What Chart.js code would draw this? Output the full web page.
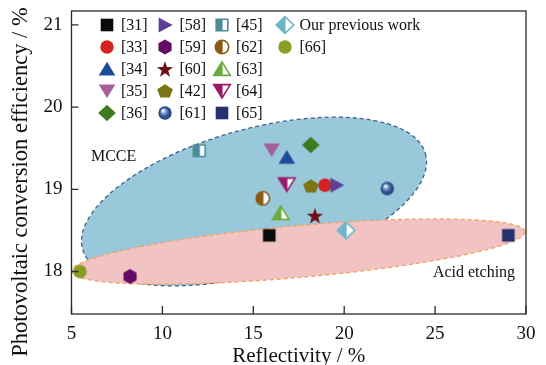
<!DOCTYPE html>
<html>
<head>
<meta charset="utf-8">
<script src="https://cdn.jsdelivr.net/npm/chart.js@4/dist/chart.umd.min.js"></script>
<style>
  html, body { margin: 0; padding: 0; background: #ffffff; }
  #wrap { width: 546px; height: 365px; }
</style>
</head>
<body>
<div id="wrap"><canvas id="chart" width="546" height="365"></canvas></div>
<script>
// ---- data ----
const refLabels = ['[31]', '[33]', '[34]', '[35]', '[36]',
                   '[58]', '[59]', '[60]', '[42]', '[61]',
                   '[45]', '[62]', '[63]', '[64]', '[65]',
                   'Our previous work', '[66]'];
const reflectivity = [15.88, 18.94, 16.84, 16.01, 18.16,
                      19.59, 8.22, 18.39, 18.17, 22.37,
                      12.03, 15.52, 16.51, 16.84, 29.03,
                      20.10, 5.47];
const efficiency = [18.44, 19.05, 19.39, 19.48, 19.54,
                    19.05, 17.94, 18.68, 19.04, 19.01,
                    19.47, 18.89, 18.71, 19.06, 18.44,
                    18.50, 18.00];
const xTicks = [5, 10, 15, 20, 25, 30];
const yTicks = [18, 19, 20, 21];

// shaded process regions (centre and two half-axis vectors, in data units)
const regionNames = ['MCCE', 'Acid etching'];
const regionCenterX = [15.04, 17.47];
const regionCenterY = [18.852, 18.243];
const regionAxisU = [[9.43, 0.580], [12.47, 0.243]];
const regionAxisV = [[1.065, -0.847], [0.125, -0.314]];
const regionLabelX = [6.07, 24.88];
const regionLabelY = [19.39, 17.99];

// ---- styles ----
const FONT = "'Liberation Serif', 'Times New Roman', 'DejaVu Serif', serif";
const markerStyles = [
  { shape: 'square', color: '#0b0b0b' },
  { shape: 'circle', color: '#d42121' },
  { shape: 'triangle', color: '#1d4c9b' },
  { shape: 'triangleDown', color: '#a5609c' },
  { shape: 'diamond', color: '#3e7b1e' },
  { shape: 'triangleRight', color: '#5b3f98' },
  { shape: 'hexagon', color: '#650b67' },
  { shape: 'star', color: '#6f0d15' },
  { shape: 'pentagon', color: '#7b7513' },
  { shape: 'sphere', color: '#2f5a97' },
  { shape: 'halfSquare', color: '#4b8a97' },
  { shape: 'halfCircle', color: '#8b5a12' },
  { shape: 'halfTriangle', color: '#6aab3b' },
  { shape: 'halfTriangleDown', color: '#9b1a6c' },
  { shape: 'square', color: '#27306f' },
  { shape: 'halfDiamond', color: '#6db6c9' },
  { shape: 'circle', color: '#8d9c23' }
];
const regionStyles = [
  { fill: '#98c8da', stroke: '#3f6088' },
  { fill: '#f2c3c3', stroke: '#efa35f' }
];

function polyPath(ctx, pts) {
  ctx.beginPath();
  pts.forEach((p, k) => k ? ctx.lineTo(p[0], p[1]) : ctx.moveTo(p[0], p[1]));
  ctx.closePath();
}
function regularPts(n, r, start) {
  const pts = [];
  for (let k = 0; k < n; k++) {
    const a = start + k * 2 * Math.PI / n;
    pts.push([r * Math.cos(a), r * Math.sin(a)]);
  }
  return pts;
}
function shapePath(ctx, shape) {
  switch (shape) {
    case 'square': case 'halfSquare': {
      const h = shape === 'square' ? 6.3 : 5.8;
      polyPath(ctx, [[-h, -h], [h, -h], [h, h], [-h, h]]); break;
    }
    case 'circle': case 'halfCircle': case 'sphere':
      ctx.beginPath(); ctx.arc(0, 0, 6.7, 0, Math.PI * 2); ctx.closePath(); break;
    case 'triangle': case 'halfTriangle':
      polyPath(ctx, [[0, -7.2], [8.3, 6.4], [-8.3, 6.4]]); break;
    case 'triangleDown': case 'halfTriangleDown':
      polyPath(ctx, [[-8.3, -6.4], [8.3, -6.4], [0, 7.0]]); break;
    case 'diamond': case 'halfDiamond':
      polyPath(ctx, [[0, -8.3], [8.8, 0], [0, 8.3], [-8.8, 0]]); break;
    case 'triangleRight':
      polyPath(ctx, [[7.6, 0], [-6.4, -7.6], [-6.4, 7.6]]); break;
    case 'hexagon':
      polyPath(ctx, regularPts(6, 7.6, -Math.PI / 2)); break;
    case 'pentagon': {
      const p = regularPts(5, 8.2, -Math.PI / 2).map(q => [q[0], q[1] * 0.9 + 0.6]);
      polyPath(ctx, p); break;
    }
    case 'star': {
      const pts = [];
      for (let k = 0; k < 10; k++) {
        const r = k % 2 ? 3.4 : 8.6;
        const a = -Math.PI / 2 + k * Math.PI / 5;
        pts.push([r * Math.cos(a), r * Math.sin(a) + 0.8]);
      }
      polyPath(ctx, pts); break;
    }
  }
}

// marker images used as Chart.js point styles (and by the legend)
function makeMarker(style) {
  const S = 22;
  const cv = document.createElement('canvas');
  cv.width = S; cv.height = S;
  const ctx = cv.getContext('2d');
  ctx.translate(S / 2, S / 2);
  const half = style.shape.startsWith('half');
  shapePath(ctx, style.shape);
  if (style.shape === 'sphere') {
    const g = ctx.createRadialGradient(-2, -2.5, 0.5, 0, 0, 7);
    g.addColorStop(0, '#ffffff');
    g.addColorStop(0.25, '#8fa9d2');
    g.addColorStop(0.6, style.color);
    g.addColorStop(1, '#1e3c6c');
    ctx.fillStyle = g;
    ctx.fill();
  } else if (half) {
    ctx.fillStyle = '#ffffff';
    ctx.fill();
    ctx.save();
    ctx.clip();
    ctx.fillStyle = style.color;
    ctx.fillRect(-S / 2, -S / 2, S / 2 + 0.6, S);
    ctx.restore();
    shapePath(ctx, style.shape);
    ctx.strokeStyle = style.color;
    ctx.lineWidth = 1.6;
    ctx.stroke();
  } else {
    ctx.fillStyle = style.color;
    ctx.fill();
  }
  return cv;
}
const markerImages = markerStyles.map(makeMarker);

// ---- plugin: regions, frame, inward ticks, legend, labels ----
const decorPlugin = {
  id: 'decor',
  beforeDatasetsDraw(chart) {
    const { ctx, scales: { x, y } } = chart;
    regionNames.forEach((name, i) => {
      const cx = x.getPixelForValue(regionCenterX[i]);
      const cy = y.getPixelForValue(regionCenterY[i]);
      const ux = x.getPixelForValue(regionCenterX[i] + regionAxisU[i][0]) - cx;
      const uy = y.getPixelForValue(regionCenterY[i] + regionAxisU[i][1]) - cy;
      const vx = x.getPixelForValue(regionCenterX[i] + regionAxisV[i][0]) - cx;
      const vy = y.getPixelForValue(regionCenterY[i] + regionAxisV[i][1]) - cy;
      ctx.save();
      ctx.beginPath();
      ctx.save();
      ctx.transform(ux, uy, vx, vy, cx, cy);
      ctx.arc(0, 0, 1, 0, Math.PI * 2);
      ctx.restore();
      ctx.closePath();
      ctx.fillStyle = regionStyles[i].fill;
      ctx.fill();
      ctx.setLineDash([4, 3]);
      ctx.lineWidth = 1.3;
      ctx.strokeStyle = regionStyles[i].stroke;
      ctx.stroke();
      ctx.restore();
    });
    ctx.save();
    ctx.fillStyle = '#111';
    ctx.font = '16px ' + FONT;
    ctx.textAlign = 'left';
    ctx.textBaseline = 'middle';
    regionNames.forEach((name, i) => {
      ctx.fillText(name, x.getPixelForValue(regionLabelX[i]), y.getPixelForValue(regionLabelY[i]));
    });
    ctx.restore();
  },
  afterDraw(chart) {
    const { ctx, chartArea: a, scales: { x, y } } = chart;
    ctx.save();
    // frame
    ctx.strokeStyle = '#2a2a2a';
    ctx.lineWidth = 1.3;
    ctx.strokeRect(a.left, a.top, a.right - a.left, a.bottom - a.top);
    // inward ticks
    ctx.beginPath();
    xTicks.forEach(v => {
      const px = x.getPixelForValue(v);
      ctx.moveTo(px, a.bottom); ctx.lineTo(px, a.bottom - 8);
    });
    yTicks.forEach(v => {
      const py = y.getPixelForValue(v);
      ctx.moveTo(a.left, py); ctx.lineTo(a.left + 7, py);
    });
    ctx.stroke();
    // y-axis title
    ctx.fillStyle = '#111';
    ctx.font = '22.5px ' + FONT;
    ctx.textAlign = 'center';
    ctx.textBaseline = 'middle';
    ctx.translate(21, 182);
    ctx.rotate(-Math.PI / 2);
    ctx.fillText('Photovoltaic conversion efficiency / %', 0, 0);
    ctx.restore();

    // legend: five rows per column
    ctx.save();
    ctx.font = '16px ' + FONT;
    ctx.fillStyle = '#111';
    ctx.textAlign = 'left';
    ctx.textBaseline = 'middle';
    const colX = [35, 93.5, 150, 213.5];
    refLabels.forEach((lab, i) => {
      const col = Math.floor(i / 5), row = i % 5;
      const mx = a.left + colX[col];
      const my = a.top + 14 + row * 22;
      const img = markerImages[i];
      ctx.drawImage(img, Math.round(mx - img.width / 2), Math.round(my - img.height / 2));
      ctx.fillText(lab, mx + 14.5, my + 0.5);
    });
    ctx.restore();
  }
};

Chart.defaults.font.family = FONT;
Chart.defaults.color = '#111';

const datasets = refLabels.map((lab, i) => ({
  label: lab,
  data: [{ x: reflectivity[i], y: efficiency[i] }],
  pointStyle: markerImages[i],
  pointRadius: 7,
  pointHoverRadius: 7,
  order: -i
}));

new Chart(document.getElementById('chart'), {
  type: 'scatter',
  data: { datasets },
  plugins: [decorPlugin],
  options: {
    responsive: false,
    animation: false,
    devicePixelRatio: 1,
    layout: { padding: { top: 11, right: 20, left: 0, bottom: 0 } },
    plugins: { legend: { display: false }, tooltip: { enabled: false } },
    scales: {
      x: {
        type: 'linear', min: 5, max: 30,
        afterBuildTicks: s => { s.ticks = xTicks.map(v => ({ value: v })); },
        afterFit: s => { s.height = 51; s.paddingLeft = 0; s.paddingRight = 0; },
        grid: { display: false, drawTicks: false },
        border: { display: false },
        ticks: { font: { size: 19 }, color: '#111', padding: 9, maxRotation: 0, autoSkip: false },
        title: { display: true, text: 'Reflectivity / %', font: { size: 21 }, color: '#111', padding: { top: 0, bottom: -4 } }
      },
      y: {
        type: 'linear', min: 17.483, max: 21.17,
        afterBuildTicks: s => { s.ticks = yTicks.map(v => ({ value: v })); },
        afterFit: s => { s.width = 71.5; s.paddingTop = 0; s.paddingBottom = 0; },
        grid: { display: false, drawTicks: false },
        border: { display: false },
        ticks: { font: { size: 19 }, color: '#111', padding: 9, autoSkip: false }
      }
    }
  }
});
</script>
</body>
</html>
